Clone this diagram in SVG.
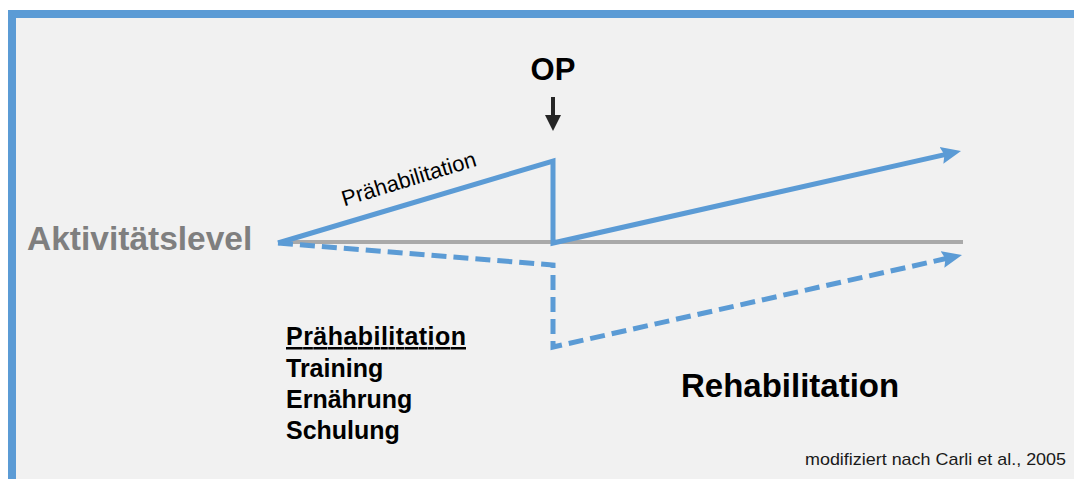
<svg xmlns="http://www.w3.org/2000/svg" width="1074" height="479" viewBox="0 0 1074 479">
  <style>
    .blue { fill: none; stroke: #5B9BD5; stroke-width: 5; stroke-linejoin: miter; }
    .dash { stroke-dasharray: 15 7; }
    .bold { font-family: "Liberation Sans", Arial, sans-serif; font-weight: bold; }
    .reg { font-family: "Liberation Sans", Arial, sans-serif; }
  </style>
  <defs>
    <marker id="blueHead" markerUnits="userSpaceOnUse" markerWidth="22" markerHeight="20" refX="8" refY="10" orient="auto">
      <path d="M0,1.5 L20,10 L0,18.5 L3,10 Z" fill="#5B9BD5"/>
    </marker>
  </defs>
  <rect x="0" y="0" width="1074" height="479" fill="#ffffff"/>
  <rect x="16" y="18" width="1058" height="461" fill="#F1F1F1"/>
  <rect x="8" y="10" width="1066" height="8" fill="#5B9BD5"/>
  <rect x="8" y="10" width="8" height="469" fill="#5B9BD5"/>

  <g id="connectors">
    <line x1="280" y1="242" x2="963" y2="242" stroke="#A9A9A9" stroke-width="4"/>
    <polyline class="blue" points="278,243 553,161 553,243 949.3,153.6" marker-end="url(#blueHead)"/>
    <polyline class="blue dash" points="278,243 553,265 553,347 950.3,257.6" marker-end="url(#blueHead)"/>
    <g id="op-arrow">
      <line x1="553" y1="97" x2="553" y2="116" stroke="#262626" stroke-width="4"/>
      <path d="M545,115 L561,115 L553,131 Z" fill="#262626"/>
    </g>
  </g>

  <g id="label-op"><text class="bold" x="553" y="80" font-size="31" text-anchor="middle" fill="#000">OP</text></g>
  <g id="label-aktivitaet"><text class="bold" x="27" y="250" font-size="33.5" fill="#7F7F7F">Aktivitätslevel</text></g>
  <g id="label-prehab-line"><text class="reg" transform="translate(411,186) rotate(-17)" font-size="22" text-anchor="middle" fill="#000">Prähabilitation</text></g>
  <g id="label-list">
    <text class="bold" font-size="25" fill="#000">
      <tspan x="286" y="345" text-decoration="underline" textLength="180">Prähabilitation</tspan>
      <tspan x="286" y="377">Training</tspan>
      <tspan x="286" y="408">Ernährung</tspan>
      <tspan x="286" y="439">Schulung</tspan>
    </text>
  </g>
  <g id="label-rehab"><text class="bold" x="681" y="397" font-size="33" fill="#000">Rehabilitation</text></g>
  <g id="label-source"><text class="reg" x="805" y="465" font-size="17" textLength="261" lengthAdjust="spacingAndGlyphs" fill="#1a1a1a">modifiziert nach Carli et al., 2005</text></g>
</svg>
